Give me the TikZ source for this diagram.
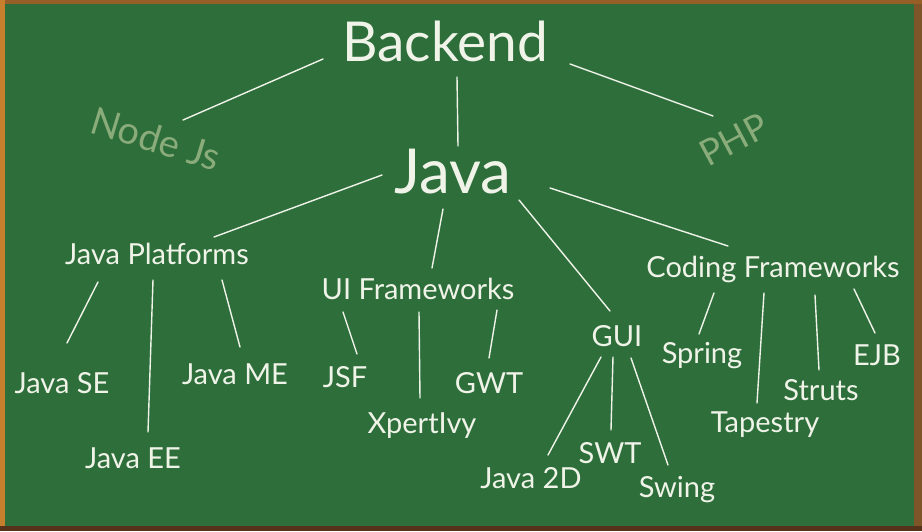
\documentclass[tikz,border=0pt]{standalone}
\usepackage{fontspec}
\setmainfont{Lato}
\usetikzlibrary{calc}
\definecolor{board}{RGB}{45,110,59}
\definecolor{chalk}{RGB}{240,244,232}
\definecolor{faded}{RGB}{138,172,122}
\definecolor{frametop}{RGB}{150,95,40}
\definecolor{frameleft}{RGB}{198,128,45}
\definecolor{frameright}{RGB}{125,85,40}
\definecolor{framebottom}{RGB}{85,50,25}
\tikzset{
  lbl/.style={inner sep=0pt, anchor=base, text=chalk, font=\fontsize{29}{30}\selectfont},
  big/.style={inner sep=0pt, anchor=base, text=chalk},
  ghost/.style={inner sep=0pt, anchor=base, text=faded},
  link/.style={draw=chalk, line width=1.4pt, line cap=round}
}
\begin{document}
\begin{tikzpicture}[x=1pt,y=-1pt]
\useasboundingbox (0,0) rectangle (922,531);
% frame
\fill[frameright] (0,0) rectangle (922,531);
\fill[frametop] (0,0) rectangle (922,4);
\fill[frameleft] (0,0) rectangle (5,526);
\fill[framebottom] (0,526) rectangle (922,531);
\fill[board] (5,4) rectangle (914,526);

% nodes
\node[big, font=\fontsize{55}{56}\selectfont] (bk) at (445,61) {Backend};
\node[big, font=\fontsize{62}{63}\selectfont] (jv) at (453,193) {Java};
\node[ghost, font=\fontsize{38}{39}\selectfont, rotate=-17] (nj) at (152,152) {Node Js};
\node[ghost, font=\fontsize{36}{37}\selectfont, rotate=28] (php) at (740,151) {PHP};

\node[lbl] (jp) at (157,264) {Java Platforms};
\node[lbl] (ui) at (418,299) {UI Frameworks};
\node[lbl] (gui) at (617,346) {GUI};
\node[lbl] (cf) at (773,277) {Coding Frameworks};

\node[lbl] (se) at (62,393) {Java SE};
\node[lbl] (ee) at (133,468) {Java EE};
\node[lbl] (me) at (235,384) {Java ME};
\node[lbl] (jsf) at (345,387) {JSF};
\node[lbl] (xi) at (422,433) {XpertIvy};
\node[lbl] (gwt) at (489,393) {GWT};
\node[lbl] (j2d) at (531,488) {Java 2D};
\node[lbl] (swt) at (610,463) {SWT};
\node[lbl] (sw) at (677,497) {Swing};
\node[lbl] (sp) at (702,363) {Spring};
\node[lbl] (tp) at (765,432) {Tapestry};
\node[lbl] (st) at (821,400) {Struts};
\node[lbl] (ejb) at (877,365) {EJB};

% connectors
\draw[link] ($(bk.base)+(-122,-2)$) -- ($(nj.base)+(31,-32)$);
\draw[link] ($(bk.base)+(125,3)$) -- ($(php.base)+(-27,-35)$);
\draw[link] ($(bk.base)+(12,16)$) -- ($(jv.base)+(5,-47)$);

\draw[link] ($(jv.base)+(-71,-18)$) -- ($(jp.base)+(57,-27)$);
\draw[link] ($(jv.base)+(-10,16)$) -- ($(ui.base)+(14,-31)$);
\draw[link] ($(jv.base)+(66,7)$) -- ($(gui.base)+(-7,-35)$);
\draw[link] ($(jv.base)+(97,-5)$) -- ($(cf.base)+(-45,-31)$);

\draw[link] ($(jp.base)+(-59,18)$) -- ($(se.base)+(5,-50)$);
\draw[link] ($(jp.base)+(-4,16)$) -- ($(ee.base)+(15,-36)$);
\draw[link] ($(jp.base)+(65,16)$) -- ($(me.base)+(5,-37)$);

\draw[link] ($(ui.base)+(-75,13)$) -- ($(jsf.base)+(12,-33)$);
\draw[link] ($(ui.base)+(1,13)$) -- ($(xi.base)+(-2,-35)$);
\draw[link] ($(ui.base)+(79,11)$) -- ($(gwt.base)+(0,-35)$);

\draw[link] ($(gui.base)+(-16,11)$) -- ($(j2d.base)+(17,-33)$);
\draw[link] ($(gui.base)+(-4,11)$) -- ($(swt.base)+(1,-33)$);
\draw[link] ($(gui.base)+(14,12)$) -- ($(sw.base)+(-9,-32)$);

\draw[link] ($(cf.base)+(-59,16)$) -- ($(sp.base)+(-3,-29)$);
\draw[link] ($(cf.base)+(-9,16)$) -- ($(tp.base)+(-8,-29)$);
\draw[link] ($(cf.base)+(42,18)$) -- ($(st.base)+(-2,-30)$);
\draw[link] ($(cf.base)+(81,12)$) -- ($(ejb.base)+(-2,-32)$);
\end{tikzpicture}
\end{document}
